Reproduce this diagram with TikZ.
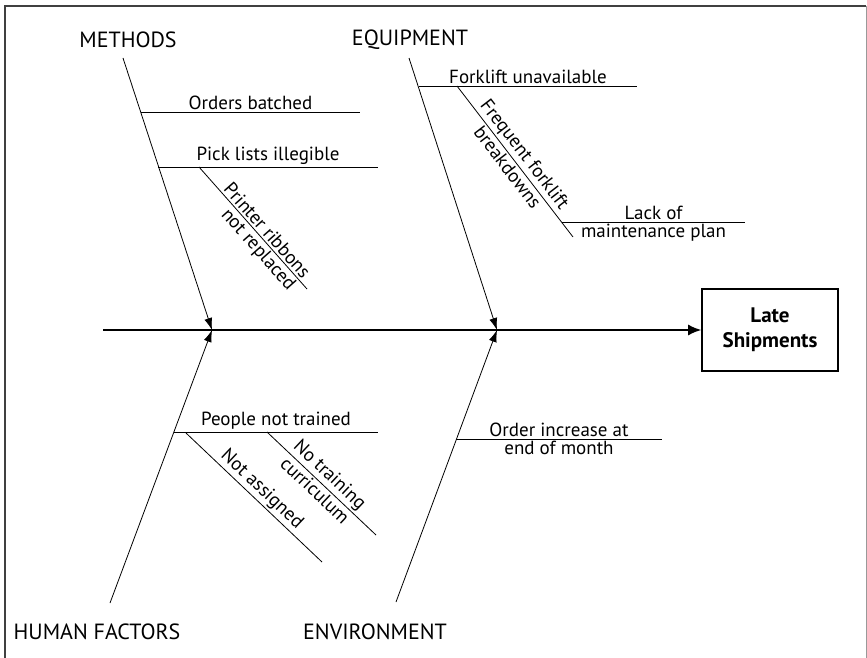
\documentclass[tikz,border=0pt]{standalone}
\usepackage{fontspec}
\setmainfont{PT Sans}
\usetikzlibrary{arrows.meta}
\tikzset{
  bone/.style={line width=0.8pt, -{Latex[length=12pt,width=8pt]}},
  twig/.style={line width=0.8pt},
  spine/.style={line width=1.6pt, -{Latex[length=13pt,width=11pt]}},
  cat/.style={font=\fontsize{22}{24}\selectfont},
  cause/.style={font=\fontsize{19}{21}\selectfont, inner sep=2pt},
  effect/.style={draw, line width=1.6pt, minimum width=136pt, minimum height=82pt,
    align=center, font=\fontsize{21}{25}\selectfont\bfseries}
}
\begin{document}
\begin{tikzpicture}[x=1pt, y=-1pt]
    \useasboundingbox (0,0) rectangle (867,658);
    \draw[line width=1.6pt, black!75] (5,658) -- (5,6) -- (866,6);
    \draw[line width=1pt, black!40] (866,6) -- (866,658);

    \node[cat] (meth) at (128,40) {METHODS};
    \node[cat] (equip) at (410,40) {EQUIPMENT};
    \node[cat] (human) at (97,632) {HUMAN FACTORS};
    \node[cat] (envir) at (375,632) {ENVIRONMENT};
    \node[effect] (late) at (770,330) {Late\\Shipments};

    \coordinate (tail) at (103,330);
    \coordinate (mhead) at (212,330);
    \coordinate (ehead) at (497,330);
    \coordinate (mtop) at (123,58);
    \coordinate (etop) at (409,58);
    \coordinate (htop) at (110,603);
    \coordinate (vtop) at (396,602);

    \draw[spine] (tail) -- (late);
    \draw[bone] (mtop) -- (mhead);
    \draw[bone] (etop) -- (ehead);
    \draw[bone] (htop) -- (mhead);
    \draw[bone] (vtop) -- (ehead);

    \coordinate (ob1) at (141,112);  \coordinate (ob2) at (360,112);
    \coordinate (pl1) at (158,167);  \coordinate (pl2) at (378,167);
    \coordinate (pr1) at (199,167);  \coordinate (pr2) at (307,289);
    \draw[twig] (ob1) -- node[cause, above] {Orders batched} (ob2);
    \draw[twig] (pl1) -- node[cause, above] {Pick lists illegible} (pl2);
    \draw[twig] (pr1) -- node[cause, sloped, above, pos=0.57] {Printer ribbons}
        node[cause, sloped, below, pos=0.62] {not replaced} (pr2);

    \coordinate (fu1) at (419,86);  \coordinate (fu2) at (637,86);
    \coordinate (fb1) at (457,86);  \coordinate (fb2) at (573,237);
    \coordinate (lm1) at (562,222); \coordinate (lm2) at (745,222);
    \draw[twig] (fu1) -- node[cause, above] {Forklift unavailable} (fu2);
    \draw[twig] (fb1) -- node[cause, sloped, above] {Frequent forklift}
        node[cause, sloped, below] {breakdowns} (fb2);
    \draw[twig] (lm1) -- node[cause, above] {Lack of}
        node[cause, below] {maintenance plan} (lm2);

    \coordinate (pn1) at (174,432);  \coordinate (pn2) at (378,432);
    \coordinate (na1) at (186,433);  \coordinate (na2) at (322,562);
    \coordinate (nt1) at (267,432);  \coordinate (nt2) at (376,535);
    \draw[twig] (pn1) -- node[cause, above] {People not trained} (pn2);
    \draw[twig] (na1) -- node[cause, sloped, above] {Not assigned} (na2);
    \draw[twig] (nt1) -- node[cause, sloped, above] {No training}
        node[cause, sloped, below] {curriculum} (nt2);

    \coordinate (oi1) at (456,439);  \coordinate (oi2) at (662,439);
    \draw[twig] (oi1) -- node[cause, above] {Order increase at}
        node[cause, below] {end of month} (oi2);
\end{tikzpicture}
\end{document}
